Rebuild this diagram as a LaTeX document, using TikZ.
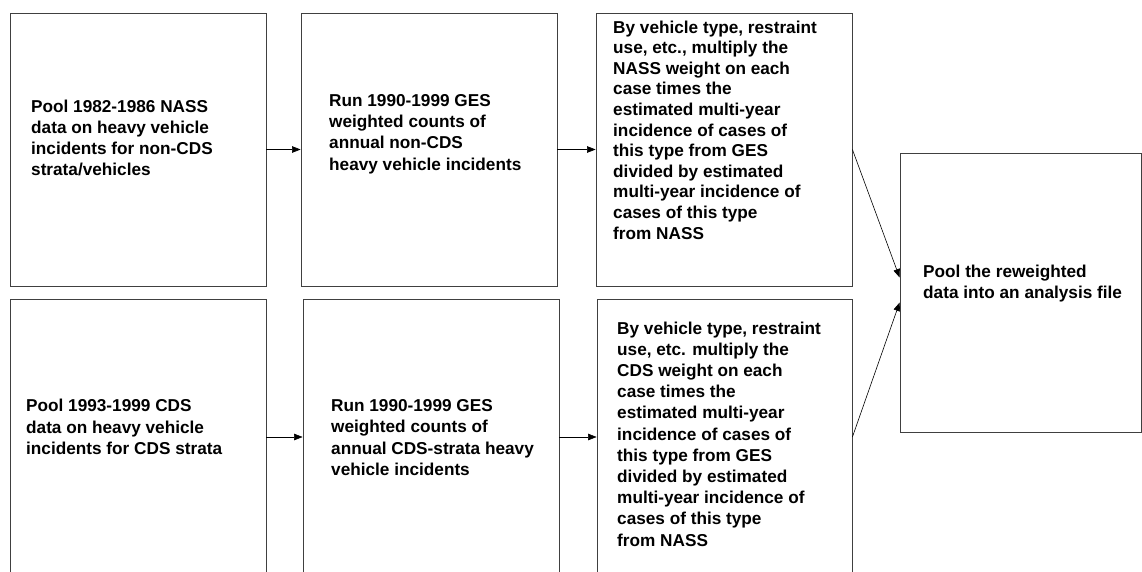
\documentclass[tikz,border=0pt]{standalone}
\usepackage{fontspec}
\setmainfont{Liberation Sans}
\usetikzlibrary{arrows.meta,positioning}

\begin{document}
\begin{tikzpicture}[x=1pt,y=1pt,
    box/.style={draw=black!75,line width=0.8pt,minimum width=256pt,inner sep=0pt},
    boxtext/.style={anchor=west,align=left,inner sep=0pt,font=\fontsize{17.2}{21.2}\selectfont\bfseries},
    flow/.style={-{Triangle[length=8.5pt,width=6.5pt]},line width=0.6pt}]
    \useasboundingbox (0,0) rectangle (1142,571);

    % NASS row
    \node[box,minimum height=273pt] (pool1) at (138,421.5) {};
    \node[box,minimum height=273pt] (run1) at (429,421.5) {};
    \node[box,minimum height=273pt] (weight1) at (724,421.5) {};

    % CDS row, runs off the page
    \node[box,minimum height=276pt] (pool2) at (138,134) {};
    \node[box,minimum height=276pt] (run2) at (431,134) {};
    \node[box,minimum height=276pt,minimum width=255pt] (weight2) at (724.5,134) {};

    \node[box,minimum width=241pt,minimum height=279pt] (pooled) at (1020.5,278.5) {};

    % box texts
    \node[boxtext] (pooltext1) at (31,433) {Pool 1982-1986 NASS\\data on heavy vehicle\\incidents for non-CDS\\strata/vehicles};
    \node[boxtext] (runtext1) at (329,437) {Run 1990-1999 GES\\weighted counts of\\annual non-CDS\\heavy vehicle incidents};
    \node[boxtext,font=\fontsize{17.2}{20.6}\selectfont\bfseries] (weighttext1) at (613,441) {By vehicle type, restraint\\use, etc., multiply the\\NASS weight on each\\case times the\\estimated multi-year\\incidence of cases of\\this type from GES\\divided by estimated\\multi-year incidence of\\cases of this type\\from NASS};

    \node[boxtext] (pooltext2) at (26,144) {Pool 1993-1999 CDS\\data on heavy vehicle\\incidents for CDS strata};
    \node[boxtext] (runtext2) at (331,133.5) {Run 1990-1999 GES\\weighted counts of\\annual CDS-strata heavy\\vehicle incidents};
    \node[boxtext] (weighttext2) at (617,137) {By vehicle type, restraint\\use, etc. multiply the\\CDS weight on each\\case times the\\estimated multi-year\\incidence of cases of\\this type from GES\\divided by estimated\\multi-year incidence of\\cases of this type\\from NASS};

    \node[boxtext] (pooledtext) at (923,287.5) {Pool the reweighted\\data into an analysis file};

    \foreach \from/\to in {pool1/run1,run1/weight1,pool2/run2,run2/weight2}
    \draw[flow] (\from) -- (\to);

    \draw[flow] (weight1.east) -- ([yshift=15pt]pooled.west);
    \draw[flow] (weight2.east) -- ([yshift=-10pt]pooled.west);

\end{tikzpicture}
\end{document}
